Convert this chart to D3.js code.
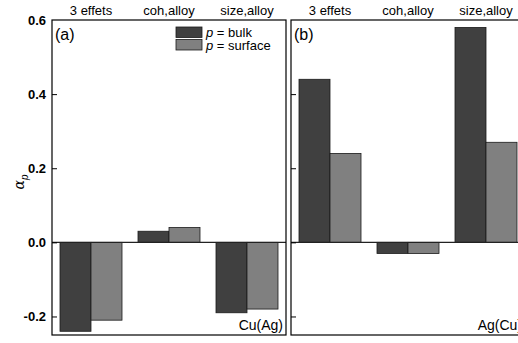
<!DOCTYPE html>
<html>
<head>
<meta charset="utf-8">
<script src="https://cdn.jsdelivr.net/npm/d3@7"></script>
<style>
body{margin:0;background:#fff}
text{font-family:Arial,"Liberation Sans",sans-serif}
</style>
</head>
<body>
<div id="container"></div>
<script>
// datos
var categorias = ["3 effets", "coh,alloy", "size,alloy"]
var series = ["bulk", "surface"]
var cuAg = [[-0.24, -0.21], [0.03, 0.04], [-0.19, -0.18]]
var agCu = [[0.44, 0.24], [-0.03, -0.03], [0.58, 0.27]]
var ticksY = [-0.2, 0.0, 0.2, 0.4, 0.6]
var paneles = [
  {letra: "(a)", nombre: "Cu(Ag)", valores: cuAg, x0: 52, leyenda: true},
  {letra: "(b)", nombre: "Ag(Cu)", valores: agCu, x0: 291, leyenda: false}
]
var colores = {bulk: "#404040", surface: "#808080"}

var ancho = 518, alto = 343
var anchoPanel = 234
var arriba = 20, abajo = 335

var svg = d3.select("#container").append("svg")
  .attr("width", ancho).attr("height", alto)

var y = d3.scaleLinear().domain([-0.25, 0.6]).range([abajo, arriba])
var xGrupo = d3.scaleBand().domain(categorias).range([0, anchoPanel]).padding(0)
var xSerie = d3.scaleBand().domain(series).range([0, xGrupo.bandwidth()]).paddingInner(0).paddingOuter(0.258)
var colorSerie = d3.scaleOrdinal().domain(series).range([colores.bulk, colores.surface])

paneles.forEach(function(p, i) {
  var g = svg.append("g").attr("transform", "translate(" + p.x0 + ",0)")

  // barras
  p.valores.forEach(function(par, ci) {
    g.selectAll(null).data(series).enter().append("rect")
      .attr("x", function(s) { return xGrupo(categorias[ci]) + xSerie(s) })
      .attr("width", xSerie.bandwidth())
      .attr("y", function(s, si) { return y(Math.max(0, par[si])) })
      .attr("height", function(s, si) { return Math.abs(y(par[si]) - y(0)) })
      .attr("fill", function(s) { return colorSerie(s) })
      .attr("stroke", "#1a1a1a")
      .attr("stroke-width", 0.8)
  })

  // linea cero
  g.append("line")
    .attr("x1", 0).attr("x2", anchoPanel)
    .attr("y1", y(0)).attr("y2", y(0))
    .attr("stroke", "#222").attr("stroke-width", 1.3)

  // eje izquierdo con ticks hacia dentro
  var eje = d3.axisRight(y).tickValues(ticksY.slice(0, 4)).tickSize(5).tickFormat("")
  var gEje = g.append("g").call(eje)
  gEje.select(".domain").remove()
  gEje.selectAll("line").attr("stroke", "#000")

  // marco
  g.append("rect")
    .attr("x", 0).attr("y", arriba)
    .attr("width", anchoPanel).attr("height", abajo - arriba)
    .attr("fill", "none").attr("stroke", "#000").attr("stroke-width", 1.2)

  // categorias arriba
  g.selectAll(null).data(categorias).enter().append("text")
    .attr("x", function(d) { return xGrupo(d) + xGrupo.bandwidth() / 2 })
    .attr("y", 15)
    .attr("text-anchor", "middle")
    .attr("font-size", 13)
    .text(function(d) { return d })

  g.append("text").attr("x", 3).attr("y", 40).attr("font-size", 16).text(p.letra)
  g.append("text").attr("x", anchoPanel - 3).attr("y", 330)
    .attr("text-anchor", "end").attr("font-size", 14).text(p.nombre)

  if (p.leyenda) {
    var ley = g.selectAll(".ley").data(series).enter().append("g")
      .attr("transform", function(d, k) { return "translate(124," + (27 + k * 12.5) + ")" })
    ley.append("rect").attr("width", 26).attr("height", 10.5)
      .attr("fill", function(d) { return colorSerie(d) })
      .attr("stroke", "#1a1a1a").attr("stroke-width", 0.8)
    var t = ley.append("text").attr("x", 30).attr("y", 10).attr("font-size", 13)
    t.append("tspan").attr("font-style", "italic").text("p")
    t.append("tspan").text(function(d) { return " = " + d })
  }
})

// etiquetas eje y
svg.selectAll(".ty").data(ticksY).enter().append("text")
  .attr("x", 46).attr("y", function(d) { return y(d) + 5 })
  .attr("text-anchor", "end")
  .attr("font-size", 13).attr("font-weight", "bold")
  .text(function(d) { return d.toFixed(1) })

var lab = svg.append("text").attr("transform", "translate(24,182) rotate(-90)")
  .attr("text-anchor", "middle").attr("font-size", 14)
lab.append("tspan").attr("font-style", "italic").attr("font-family", "DejaVu Serif, serif").text("α")
lab.append("tspan").attr("font-style", "italic").attr("font-size", 10).attr("dy", 4).text("p")
</script>
</body>
</html>
